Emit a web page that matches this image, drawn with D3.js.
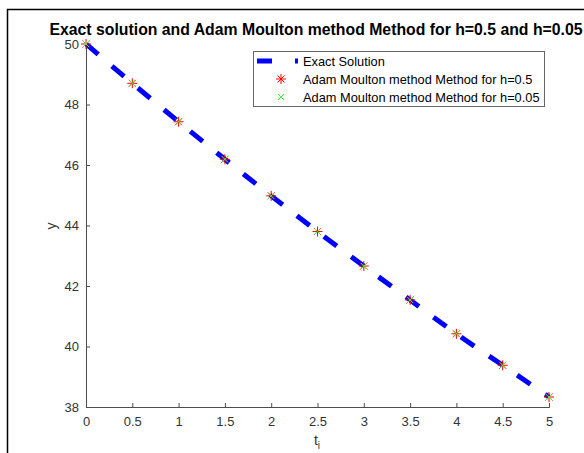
<!DOCTYPE html>
<html>
<head>
<meta charset="utf-8">
<script src="https://d3js.org/d3.v7.min.js"></script>
<style>
  body { margin: 0; background: #fff; }
  svg { font-family: "Liberation Sans", Arial, sans-serif; }
</style>
</head>
<body>
<div id="chart"></div>
<script>
// values
var tValues = [0, 0.5, 1, 1.5, 2, 2.5, 3, 3.5, 4, 4.5, 5];
var exactY = [50, 48.70, 47.43, 46.19, 44.98, 43.80, 42.66, 41.54, 40.42, 39.38, 38.33];
var amH05 = [50, 48.70, 47.43, 46.19, 44.98, 43.80, 42.66, 41.54, 40.42, 39.38, 38.33];
var amH005 = [50, 48.70, 47.43, 46.19, 44.98, 43.80, 42.66, 41.54, 40.42, 39.38, 38.33];
var xTicks = [0, 0.5, 1, 1.5, 2, 2.5, 3, 3.5, 4, 4.5, 5];
var yTicks = [38, 40, 42, 44, 46, 48, 50];
var legendLabels = ["Exact Solution", "Adam Moulton method Method for h=0.5", "Adam Moulton method Method for h=0.05"];
var title = "Exact solution and Adam Moulton method Method for h=0.5 and h=0.05";

var width = 584, height = 453;
var margin = { top: 44, right: 35, bottom: 46, left: 86 };

var svg = d3.select("#chart").append("svg")
  .attr("width", width)
  .attr("height", height);

// window frame lines
svg.append("path")
  .attr("d", "M7.5," + height + "V9.5H" + width)
  .attr("fill", "none")
  .attr("stroke", "#000")
  .attr("stroke-width", 1.5);

var x = d3.scaleLinear().domain([0, 5]).range([margin.left, width - margin.right]);
var y = d3.scaleLinear().domain([38, 50]).range([height - margin.bottom, margin.top]);

var axisColor = "#4d4d4d";

// x axis
var gx = svg.append("g")
  .attr("transform", "translate(0," + (height - margin.bottom) + ")")
  .call(d3.axisBottom(x).tickValues(xTicks).tickSize(-4).tickPadding(10).tickFormat(d3.format("")));
// y axis
var gy = svg.append("g")
  .attr("transform", "translate(" + margin.left + ",0)")
  .call(d3.axisLeft(y).tickValues(yTicks).tickSize(-4).tickPadding(7));

[gx, gy].forEach(function (g) {
  g.select(".domain").attr("stroke", axisColor).attr("stroke-width", 1);
  g.selectAll(".tick line").attr("stroke", axisColor);
  g.selectAll(".tick text").attr("fill", "#333").style("font-size", "13px").style("font-family", "Liberation Sans, Arial, sans-serif");
});

// axis labels
svg.append("text")
  .attr("x", 317).attr("y", 445)
  .attr("text-anchor", "middle")
  .attr("fill", "#333")
  .style("font-size", "14px")
  .html("t<tspan dy='4' font-size='10px'>i</tspan>");

svg.append("text")
  .attr("transform", "translate(56,226) rotate(-90)")
  .attr("text-anchor", "middle")
  .attr("fill", "#333")
  .style("font-size", "14px")
  .text("y");

// title
svg.append("text")
  .attr("x", 316).attr("y", 35)
  .attr("text-anchor", "middle")
  .attr("fill", "#000")
  .style("font-size", "15.8px")
  .style("font-weight", "bold")
  .text(title);

// exact solution
var line = d3.line()
  .x(function (d, i) { return x(tValues[i]); })
  .y(function (d) { return y(d); })
  .curve(d3.curveMonotoneX);

svg.append("path")
  .datum(exactY)
  .attr("d", line)
  .attr("fill", "none")
  .attr("stroke", "#0000ff")
  .attr("stroke-width", 5)
  .attr("stroke-dasharray", "16,18");

function asterisk(g, cx, cy, r, color) {
  var p = "M" + (cx - r) + "," + cy + "H" + (cx + r) +
    "M" + cx + "," + (cy - r) + "V" + (cy + r);
  var d = r * 0.7;
  p += "M" + (cx - d) + "," + (cy - d) + "L" + (cx + d) + "," + (cy + d) +
    "M" + (cx - d) + "," + (cy + d) + "L" + (cx + d) + "," + (cy - d);
  g.append("path").attr("d", p).attr("stroke", color).attr("stroke-width", 1).attr("fill", "none");
}
function cross(g, cx, cy, r, color) {
  var p = "M" + (cx - r) + "," + (cy - r) + "L" + (cx + r) + "," + (cy + r) +
    "M" + (cx - r) + "," + (cy + r) + "L" + (cx + r) + "," + (cy - r);
  g.append("path").attr("d", p).attr("stroke", color).attr("stroke-width", 1).attr("fill", "none");
}

var marks = svg.append("g");
amH05.forEach(function (v, i) { asterisk(marks, x(tValues[i]), y(v), 5, "#ff0000"); });
amH005.forEach(function (v, i) { cross(marks, x(tValues[i]), y(v), 3, "#33ff33"); });

// legend
var lg = svg.append("g").attr("transform", "translate(253,51)");
lg.append("rect")
  .attr("x", 0.5).attr("y", 0.5)
  .attr("width", 291).attr("height", 55)
  .attr("fill", "#fff")
  .attr("stroke", "#666")
  .attr("stroke-width", 1);

var rowY = [10, 28, 46];
lg.append("line")
  .attr("x1", 4).attr("x2", 45)
  .attr("y1", rowY[0]).attr("y2", rowY[0])
  .attr("stroke", "#0000ff").attr("stroke-width", 5)
  .attr("stroke-dasharray", "15,23");
asterisk(lg, 28, rowY[1], 5, "#ff0000");
cross(lg, 28, rowY[2], 3, "#33ff33");

lg.selectAll("text.lbl")
  .data(legendLabels)
  .enter().append("text")
  .attr("class", "lbl")
  .attr("x", 50)
  .attr("y", function (d, i) { return rowY[i] + 4.5; })
  .attr("fill", "#000")
  .style("font-size", "12.8px")
  .text(function (d) { return d; });
</script>
</body>
</html>
